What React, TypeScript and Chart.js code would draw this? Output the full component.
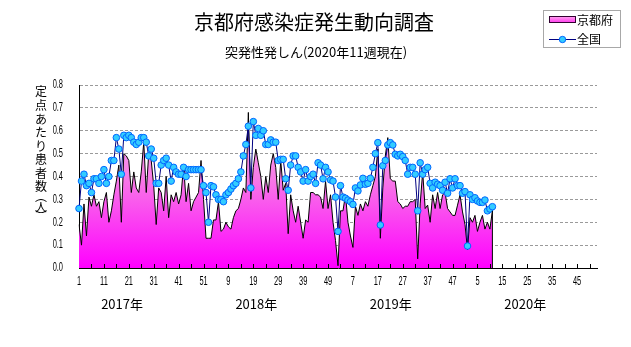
import React, { useEffect, useRef } from "react";
import { Chart, registerables } from "chart.js";

Chart.register(...registerables);

// ---- data ----
const titleText = "京都府感染症発生動向調査";
const subtitleText = "突発性発しん(2020年11週現在)";
const yAxisTitleChars = ["定", "点", "あ", "た", "り", "患", "者", "数", "︵", "人", "︶"];
const yearNames = ["2017年", "2018年", "2019年", "2020年"];
const yearWeeks = [52, 52, 52, 53];
const seriesNames = ["京都府", "全国"];
const yTickValues = [0, 0.1, 0.2, 0.3, 0.4, 0.5, 0.6, 0.7, 0.8];

const weekLabels: string[] = [];
yearWeeks.forEach((n) => {
  for (let w = 1; w <= n; w++) weekLabels.push(String(w));
});

const kyoto = [
  0.19, 0.10, 0.28, 0.14, 0.31, 0.27, 0.32, 0.27, 0.29, 0.22,
  0.29, 0.33, 0.20, 0.25, 0.32, 0.38, 0.45, 0.20, 0.50, 0.49,
  0.47, 0.33, 0.42, 0.35, 0.33, 0.42, 0.55, 0.33, 0.50, 0.47,
  0.36, 0.19, 0.35, 0.33, 0.25, 0.40, 0.22, 0.32, 0.29, 0.33,
  0.28, 0.32, 0.45, 0.29, 0.37, 0.25, 0.29, 0.31, 0.33, 0.47,
  0.30, 0.13, 0.13, 0.13, 0.21, 0.21, 0.29, 0.16, 0.17, 0.20,
  0.18, 0.17, 0.22, 0.25, 0.26, 0.30, 0.35, 0.33, 0.68, 0.30,
  0.44, 0.52, 0.46, 0.40, 0.30, 0.40, 0.33, 0.45, 0.50, 0.44,
  0.30, 0.47, 0.34, 0.37, 0.15, 0.32, 0.25, 0.20, 0.27, 0.20,
  0.13, 0.21, 0.20, 0.33, 0.33, 0.32, 0.32, 0.31, 0.26, 0.38,
  0.26, 0.32, 0.20, 0.12, 0.01, 0.25, 0.25, 0.32, 0.20, 0.14,
  0.09, 0.27, 0.23, 0.28, 0.25, 0.29, 0.27, 0.32, 0.36, 0.40,
  0.52, 0.13, 0.35, 0.49, 0.57, 0.39, 0.38, 0.38, 0.29, 0.28,
  0.26, 0.27, 0.27, 0.29, 0.29, 0.30, 0.04, 0.28, 0.42, 0.26,
  0.275, 0.20, 0.32, 0.26, 0.33, 0.26, 0.32, 0.33, 0.26, 0.245,
  0.23, 0.23, 0.275, 0.32, 0.245, 0.19, 0.08, 0.22, 0.20, 0.23,
  0.16, 0.20, 0.23, 0.17, 0.20, 0.17, 0.25,
];

const national = [
  0.26, 0.38, 0.41, 0.36, 0.37, 0.33, 0.39, 0.39, 0.37, 0.40,
  0.43, 0.37, 0.40, 0.47, 0.47, 0.57, 0.52, 0.41, 0.58, 0.57,
  0.58, 0.57, 0.55, 0.54, 0.55, 0.57, 0.57, 0.55, 0.49, 0.52,
  0.48, 0.37, 0.37, 0.45, 0.47, 0.48, 0.45, 0.38, 0.44, 0.42,
  0.41, 0.41, 0.44, 0.40, 0.43, 0.43, 0.43, 0.43, 0.43, 0.43,
  0.36, 0.33, 0.20, 0.36, 0.355, 0.32, 0.30, 0.30, 0.29, 0.32,
  0.33, 0.345, 0.36, 0.37, 0.39, 0.42, 0.49, 0.54, 0.62, 0.35,
  0.64, 0.58, 0.61, 0.58, 0.60, 0.54, 0.54, 0.56, 0.55, 0.55,
  0.47, 0.475, 0.475, 0.39, 0.34, 0.45, 0.49, 0.49, 0.44, 0.42,
  0.38, 0.43, 0.38, 0.40, 0.41, 0.37, 0.46, 0.45, 0.39, 0.44,
  0.42, 0.385, 0.38, 0.31, 0.16, 0.36, 0.31, 0.305, 0.297, 0.29,
  0.278, 0.35, 0.337, 0.363, 0.392, 0.366, 0.37, 0.392, 0.44, 0.50,
  0.548, 0.188, 0.447, 0.47, 0.538, 0.548, 0.538, 0.497, 0.49, 0.497,
  0.487, 0.47, 0.41, 0.44, 0.44, 0.41, 0.25, 0.46, 0.41, 0.43,
  0.44, 0.37, 0.35, 0.375, 0.366, 0.36, 0.34, 0.375, 0.327, 0.39,
  0.35, 0.39, 0.36, 0.36, 0.327, 0.334, 0.096, 0.32, 0.30, 0.307,
  0.293, 0.287, 0.287, 0.297, 0.25, 0.258, 0.268,
];

// ---- styles ----
const JP = "'Noto Sans CJK JP', 'Noto Sans', sans-serif";
const NUMF = "'Liberation Sans', Arial, sans-serif";
const yearLabelIdx = [17.3, 71.2, 125.2, 179.2];

function narrowText(ctx: CanvasRenderingContext2D, t: string, x: number, y: number, align: "left" | "right" | "center", sx: number) {
  ctx.save();
  ctx.translate(x, y);
  ctx.scale(sx, 1);
  ctx.textAlign = align;
  ctx.fillText(t, 0, 0);
  ctx.restore();
}

const decorPlugin = {
  id: "decor",
  afterDraw(chart: any) {
    const { ctx, chartArea, scales } = chart;
    const xs = scales.x;
    const ys = scales.y;
    ctx.save();

    // inward tick marks every 5 weeks
    ctx.strokeStyle = "#000";
    ctx.lineWidth = 1;
    ctx.beginPath();
    for (let i = 5; i < weekLabels.length; i += 5) {
      const x = Math.round(xs.getPixelForValue(i)) + 0.5;
      ctx.moveTo(x, chartArea.bottom);
      ctx.lineTo(x, chartArea.bottom - 4);
    }
    ctx.stroke();

    // vertical drop at end of Kyoto series
    const li = kyoto.length - 1;
    const xe = xs.getPixelForValue(li);
    ctx.beginPath();
    ctx.moveTo(xe, ys.getPixelForValue(kyoto[li]));
    ctx.lineTo(xe, chartArea.bottom);
    ctx.stroke();

    ctx.fillStyle = "#000";
    ctx.textBaseline = "middle";

    // axis tick labels (narrow numerals)
    ctx.font = `12px ${NUMF}`;
    yTickValues.forEach((v) => narrowText(ctx, v.toFixed(1), 63, ys.getPixelForValue(v), "right", 0.62));
    weekLabels.forEach((w, i) => {
      if (i % 10 === 0) narrowText(ctx, w, xs.getPixelForValue(i), 282, "center", 0.62);
    });

    // titles
    ctx.textAlign = "center";
    ctx.font = `20px ${JP}`;
    ctx.fillText(titleText, 314, 22);
    ctx.font = `13px ${JP}`;
    ctx.fillText(subtitleText, 316, 52);

    // vertical y-axis title
    ctx.font = `12px ${JP}`;
    const ty = [91, 105, 119, 132.5, 146, 159.5, 173, 186.5, 196, 207, 216];
    yAxisTitleChars.forEach((c, k) => ctx.fillText(c, 41, ty[k]));

    // year labels
    ctx.font = `13px ${JP}`;
    yearNames.forEach((t, k) => ctx.fillText(t, xs.getPixelForValue(yearLabelIdx[k]), 304));

    // legend
    ctx.fillStyle = "#fff";
    ctx.fillRect(543, 10, 78, 38);
    ctx.strokeStyle = "#a8a8a8";
    ctx.strokeRect(543.5, 10.5, 77, 37);
    const g = ctx.createLinearGradient(0, 17, 0, 23);
    g.addColorStop(0, "#ff99ee");
    g.addColorStop(1, "#ff33ee");
    ctx.fillStyle = g;
    ctx.fillRect(550, 17, 25, 5);
    ctx.strokeStyle = "#300030";
    ctx.strokeRect(549.5, 16.5, 26, 6);
    ctx.strokeStyle = "#000080";
    ctx.beginPath();
    ctx.moveTo(549, 39.5);
    ctx.lineTo(576, 39.5);
    ctx.stroke();
    ctx.beginPath();
    ctx.arc(562.5, 39.5, 3.2, 0, Math.PI * 2);
    ctx.fillStyle = "#33ccff";
    ctx.fill();
    ctx.strokeStyle = "#0066ff";
    ctx.stroke();
    ctx.fillStyle = "#000";
    ctx.textAlign = "left";
    ctx.font = `12px ${JP}`;
    ctx.fillText(seriesNames[0], 577, 20);
    ctx.fillText(seriesNames[1], 577, 39);

    ctx.restore();
  },
};

export default function App() {
  const ref = useRef<HTMLCanvasElement | null>(null);

  useEffect(() => {
    if (!ref.current) return;
    const chart = new Chart(ref.current, {
      type: "line",
      data: {
        labels: weekLabels,
        datasets: [
          {
            label: seriesNames[1],
            data: national,
            borderColor: "#000080",
            borderWidth: 1,
            pointRadius: 3.3,
            pointBackgroundColor: "#33ccff",
            pointBorderColor: "#0066ff",
            pointBorderWidth: 1,
            fill: false,
            tension: 0,
            order: 0,
          },
          {
            label: seriesNames[0],
            data: kyoto,
            borderColor: "#000000",
            borderWidth: 1,
            pointRadius: 0,
            fill: "origin",
            tension: 0,
            order: 1,
            backgroundColor: (c: any) => {
              const { ctx, chartArea } = c.chart;
              if (!chartArea) return "#ff66ee";
              const gr = ctx.createLinearGradient(0, chartArea.top, 0, chartArea.bottom);
              gr.addColorStop(0, "#ffd4f6");
              gr.addColorStop(0.5, "#f77ce6");
              gr.addColorStop(1, "#ff00ff");
              return gr;
            },
          },
        ],
      },
      options: {
        responsive: false,
        animation: false,
        layout: { padding: { left: 0, right: 34, top: 85, bottom: 0 } },
        plugins: {
          legend: { display: false },
          title: { display: false },
          tooltip: { enabled: false },
        },
        scales: {
          x: {
            type: "category",
            offset: false,
            grid: { display: false, drawTicks: false },
            border: { display: true, color: "#000", width: 1 },
            ticks: { display: false, autoSkip: false },
            afterFit: (s: any) => {
              s.height = 79;
            },
          },
          y: {
            min: 0,
            max: 0.8,
            grid: {
              color: (c: any) => (c.tick && c.tick.value === 0 ? "rgba(0,0,0,0)" : "#9a9a9a"),
              drawTicks: false,
              lineWidth: 1,
            },
            border: { display: true, color: "#000", width: 1, dash: [3, 2] },
            ticks: { display: false, stepSize: 0.1 },
            afterFit: (s: any) => {
              s.width = 79;
            },
          },
        },
      },
      plugins: [decorPlugin],
    });
    return () => chart.destroy();
  }, []);

  return (
    <div style={{ position: "absolute", left: 0, top: 0, width: 631, height: 347, background: "#fff" }}>
      <canvas ref={ref} width={631} height={347} style={{ display: "block" }} />
    </div>
  );
}
